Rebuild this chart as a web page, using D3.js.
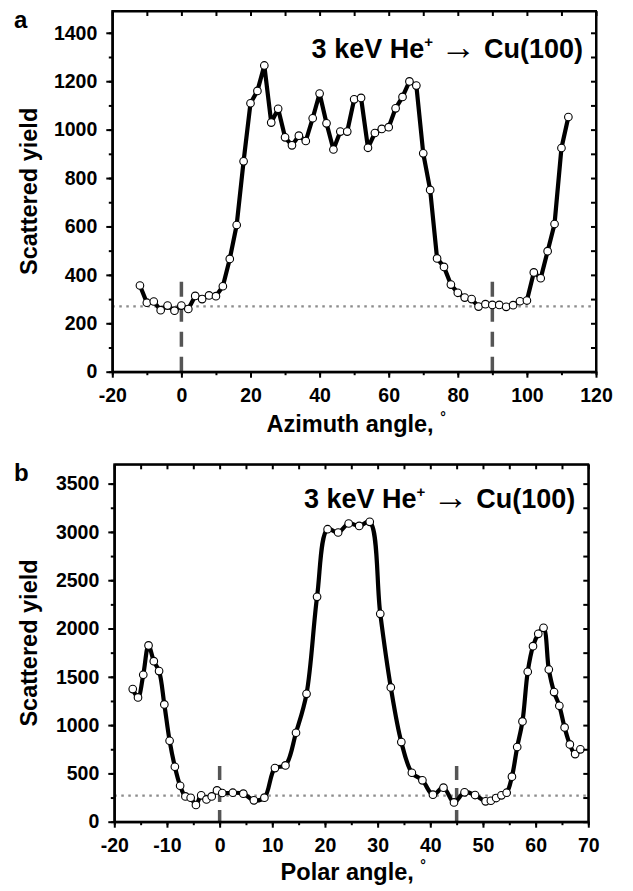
<!DOCTYPE html>
<html>
<head>
<meta charset="UTF-8" />
<title>Scattered yield</title>
<script src="https://d3js.org/d3.v7.min.js"></script>
<style>
body{margin:0;background:#fff;}
svg text{font-family:"Liberation Sans",Arial,sans-serif;font-weight:bold;fill:#000;}
.axis path,.axis line{stroke:#000;stroke-width:2;}
</style>
</head>
<body>
<div id="svg_container"></div>
<script type="text/javascript">

var w=633,h=891;

// panel a : azimuth scan
var azimuthAngle=[-12,-10,-8,-6,-4,-2,0,2,4,6,8,10,12,14,16,18,20,22,24,26,28,30,32,34,36,38,40,42,44,46,48,50,52,54,56,58,60,62,64,66,68,70,72,74,76,78,80,82,84,86,88,90,92,94,96,98,100,102,104,106,108,110,112];
var azimuthYield=[356,285,290,254,273,252,273,259,313,300,315,312,353,466,606,869,1109,1160,1265,1029,1086,968,935,975,953,1047,1149,1026,918,992,992,1125,1131,925,986,1003,1010,1088,1135,1199,1182,902,751,468,433,360,326,306,300,269,279,276,276,268,275,291,294,410,386,498,610,924,1052];
var azimuthTicks=[-20,0,20,40,60,80,100,120];
var azimuthYTicks=[0,200,400,600,800,1000,1200,1400];
var azimuthMarks=[0,90];

// panel b : polar scan
var polarAngle=[-16.5,-15.5,-14.5,-13.5,-12.5,-11.5,-10.5,-9.5,-8.5,-7.5,-6.5,-5.5,-4.5,-3.5,-2.5,-1.5,-0.5,0.5,2.5,4.5,6.5,8.5,10.5,12.5,14.5,16.5,18.5,20.5,22.5,24.5,26.5,28.5,30.5,32.5,34.5,36.5,38.5,40.5,42.5,44.5,46.5,48.5,50.5,51.5,52.5,53.5,54.5,55.5,56.5,57.5,58.5,59.5,60.5,61.5,62.5,63.5,64.5,65.5,66.5,67.5,68.5];
var polarYield=[1373,1287,1521,1825,1662,1559,1214,838,569,372,262,248,173,273,231,262,324,297,300,290,221,249,555,583,921,1324,2328,3028,2994,3087,3062,3104,2152,1390,824,507,428,280,352,200,304,276,211,217,245,273,300,466,773,1038,1552,1817,1945,2007,1576,1342,1200,976,800,700,749];
var polarTicks=[-20,-10,0,10,20,30,40,50,60,70];
var polarYTicks=[0,500,1000,1500,2000,2500,3000,3500];
var polarMarks=[0,45];

var baseline=270;

var svg=d3.select('#svg_container')
          .append('svg')
          .attr('width',w)
          .attr('height',h);

svg.append('rect').attr('width',w).attr('height',h).attr('fill','#fff');

function plain(d){return String(d);}

//畫一個面板
function panel(o){
  var x=d3.scaleLinear().domain(o.xDomain).range([o.left,o.right]);
  var y=d3.scaleLinear().domain(o.yDomain).range([o.bottom,o.top]);
  var g=svg.append('g');

  //虛線 baseline
  g.append('line')
   .attr('x1',o.left).attr('x2',o.right)
   .attr('y1',y(baseline)).attr('y2',y(baseline))
   .attr('stroke','#8c8c8c').attr('stroke-width',2.2)
   .attr('stroke-dasharray','2.5,4.5');

  //垂直虛線
  g.selectAll('line.mark')
   .data(o.marks)
   .enter()
   .append('line')
   .attr('class','mark')
   .attr('x1',function(d){return x(d);})
   .attr('x2',function(d){return x(d);})
   .attr('y1',y(o.markTop)).attr('y2',o.bottom)
   .attr('stroke','#555').attr('stroke-width',3.5)
   .attr('stroke-dasharray',o.dash);

  //曲線
  var line=d3.line()
    .x(function(d){return x(d[0]);})
    .y(function(d){return y(d[1]);})
    .curve(o.curve);
  var pts=o.xs.map(function(d,i){return [d,o.ys[i]];});
  g.append('path')
   .datum(pts)
   .attr('d',line)
   .attr('fill','none')
   .attr('stroke','#000')
   .attr('stroke-width',4.2)
   .attr('stroke-linejoin','round');

  //資料點
  g.selectAll('circle')
   .data(pts)
   .enter()
   .append('circle')
   .attr('cx',function(d){return x(d[0]);})
   .attr('cy',function(d){return y(d[1]);})
   .attr('r',3.8)
   .attr('fill','#fff')
   .attr('stroke','#000')
   .attr('stroke-width',1.1);

  //軸
  var minorX=d3.range(o.xDomain[0],o.xDomain[1]+0.001,o.xMinor);
  var minorY=d3.range(0,o.yDomain[1],o.yMinor);

  g.append('g').attr('class','axis')
   .attr('transform','translate(0,'+o.bottom+')')
   .call(d3.axisBottom(x).tickValues(minorX).tickSize(3.5).tickSizeOuter(0).tickFormat(''));
  g.append('g').attr('class','axis')
   .attr('transform','translate(0,'+o.bottom+')')
   .call(d3.axisBottom(x).tickValues(o.xTicks).tickSize(6).tickSizeOuter(0).tickPadding(10).tickFormat(plain))
   .selectAll('text').style('font-size','19.5px');

  g.append('g').attr('class','axis')
   .attr('transform','translate('+o.left+',0)')
   .call(d3.axisLeft(y).tickValues(minorY).tickSize(3.5).tickSizeOuter(0).tickFormat(''));
  g.append('g').attr('class','axis')
   .attr('transform','translate('+o.left+',0)')
   .call(d3.axisLeft(y).tickValues(o.yTicks).tickSize(6).tickSizeOuter(0).tickPadding(9).tickFormat(plain))
   .selectAll('text').style('font-size','19.5px');

  //上方、右方內側刻度
  g.append('g').attr('class','axis')
   .attr('transform','translate(0,'+o.top+')')
   .call(d3.axisBottom(x).tickValues(minorX).tickSize(5).tickSizeOuter(0).tickFormat(''));
  g.append('g').attr('class','axis')
   .attr('transform','translate('+o.right+',0)')
   .call(d3.axisLeft(y).tickValues(minorY).tickSize(5).tickSizeOuter(0).tickFormat(''));

  g.append('rect')
   .attr('x',o.left).attr('y',o.top)
   .attr('width',o.right-o.left).attr('height',o.bottom-o.top)
   .attr('fill','none').attr('stroke','#000').attr('stroke-width',2);

  //文字
  g.append('text')
   .attr('x',14).attr('y',o.top+17)
   .style('font-size','24px')
   .text(o.letter);

  g.append('text')
   .attr('transform','translate(37,'+((o.top+o.bottom)/2)+') rotate(-90)')
   .attr('text-anchor','middle')
   .style('font-size','23.5px')
   .text('Scattered yield');

  var xt=g.append('text')
   .attr('x',(o.left+o.right)/2+2).attr('y',o.bottom+o.xLabelDy)
   .attr('text-anchor','middle')
   .style('font-size','23.5px');
  xt.append('tspan').text(o.xLabel+', ');
  xt.append('tspan').attr('dy',-10).style('font-size','14px').text('°');

  var tt=g.append('text')
   .attr('x',o.right-13).attr('y',o.top+o.titleDy)
   .attr('text-anchor','end')
   .style('font-size','27px');
  tt.append('tspan').text('3 keV He');
  tt.append('tspan').attr('dy',-11).style('font-size','15px').text('+');
  tt.append('tspan').attr('dy',11).text('  ');
  tt.append('tspan').style('font-size','36px').attr('dy',1).text('\u2192');
  tt.append('tspan').attr('dy',-1).text(' Cu(100)');
}

panel({
  left:112.3,right:596,top:11,bottom:371.7,
  xDomain:[-20,120],yDomain:[0,1490],
  xTicks:azimuthTicks,yTicks:azimuthYTicks,xMinor:10,yMinor:100,
  xs:azimuthAngle,ys:azimuthYield,marks:azimuthMarks,markTop:372,dash:'15,10',
  curve:d3.curveLinear,letter:'a',xLabel:'Azimuth angle',titleDy:47,xLabelDy:60
});

panel({
  left:114.3,right:588.3,top:464.3,bottom:821.7,
  xDomain:[-20,70],yDomain:[0,3700],
  xTicks:polarTicks,yTicks:polarYTicks,xMinor:5,yMinor:250,
  xs:polarAngle,ys:polarYield,marks:polarMarks,markTop:576,dash:'14,8',
  curve:d3.curveCatmullRom,letter:'b',xLabel:'Polar angle',titleDy:44,xLabelDy:58
});

</script>
</body>
</html>
